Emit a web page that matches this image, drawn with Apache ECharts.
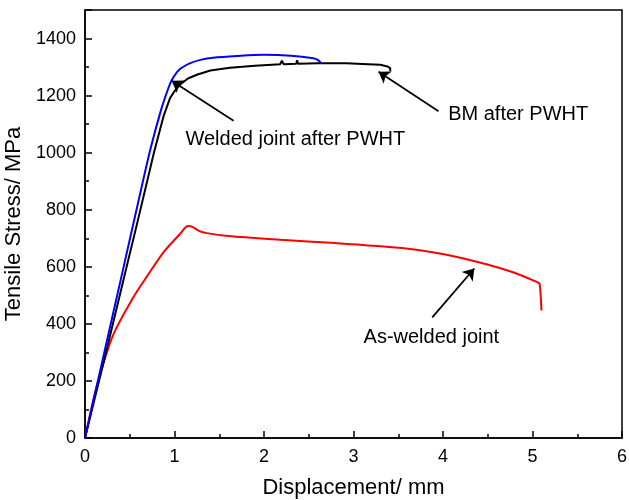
<!DOCTYPE html>
<html>
<head>
<meta charset="utf-8">
<script src="https://cdn.jsdelivr.net/npm/echarts@6/dist/echarts.min.js"></script>
<style>
  html, body { margin: 0; padding: 0; background: #fff; }
  #main { width: 629px; height: 500px; }
</style>
</head>
<body>
<div id="main"></div>
<script>
// displacement (mm), stress (MPa)
var asWelded = [[0,0],[0.09,130],[0.17,225],[0.32,365],[0.54,493],[0.7,570],[0.875,650],[1.06,715],[1.13,740],[1.16,743],[1.2,740],[1.28,725],[1.36,718],[1.6,708],[2.18,695],[2.8,683],[3.3,672],[3.7,660],[4.04,642],[4.41,615],[4.79,580],[5.06,545],[5.08,540],[5.10,447]];
var weldedPwht = [[0,0],[0.2,278],[0.4,556],[0.6,834],[0.73,1011],[0.85,1150],[0.93,1225],[0.97,1255],[1.05,1290],[1.17,1313],[1.3,1326],[1.43,1333],[1.7,1339],[2.0,1343],[2.3,1340],[2.55,1331],[2.6,1325],[2.64,1313]];
var bmPwht = [[0,0],[0.2,255],[0.4,515],[0.6,775],[0.77,1000],[0.88,1130],[0.95,1191],[1.0,1215],[1.06,1238],[1.15,1260],[1.25,1273],[1.4,1288],[1.62,1298],[1.9,1305],[2.18,1310],[2.2,1322],[2.22,1310],[2.36,1312],[2.37,1324],[2.38,1312],[2.6,1313],[2.92,1313],[3.1,1311],[3.3,1308],[3.38,1302],[3.41,1296],[3.41,1285]];

// annotation arrows: [tail, tip]
var arrows = [
  [[1.66,1112],[0.968,1252]],
  [[3.95,1145],[3.28,1284]],
  [[3.88,423],[4.35,594]]
];
var notes = [
  {name: 'Welded joint after PWHT', value: [2.35,1045]},
  {name: 'BM after PWHT', value: [4.84,1133]},
  {name: 'As-welded joint', value: [3.87,352]}
];

var chart = echarts.init(document.getElementById('main'));

var axisFont = {fontFamily: 'Liberation Sans, Arial, sans-serif', color: '#000'};
var plain = function (v) { return String(v); };

var option = {
  animation: false,
  grid: {left: 85, right: 7, top: 10, bottom: 62, outerBoundsMode: 'none', show: true, borderColor: '#000', borderWidth: 1.5},
  xAxis: {
    type: 'value', min: 0, max: 6, interval: 1,
    name: 'Displacement/ mm', nameLocation: 'middle', nameGap: 39,
    nameTextStyle: Object.assign({fontSize: 22}, axisFont),
    axisLine: {lineStyle: {color: '#000', width: 1.5}},
    axisTick: {inside: true, length: 7, lineStyle: {color: '#000', width: 1.5}},
    minorTick: {show: true, splitNumber: 2, length: 4, lineStyle: {color: '#000', width: 1.5}},
    axisLabel: Object.assign({fontSize: 18, margin: 10, formatter: plain}, axisFont),
    splitLine: {show: false}
  },
  yAxis: {
    type: 'value', min: 0, max: 1500, interval: 200,
    name: 'Tensile Stress/ MPa', nameLocation: 'middle', nameGap: 56,
    nameTextStyle: Object.assign({fontSize: 22}, axisFont),
    axisLine: {show: true, lineStyle: {color: '#000', width: 1.5}},
    axisTick: {inside: true, length: 7, lineStyle: {color: '#000', width: 1.5}},
    minorTick: {show: true, splitNumber: 2, length: 4, lineStyle: {color: '#000', width: 1.5}},
    axisLabel: Object.assign({fontSize: 18, margin: 9, showMaxLabel: false, formatter: plain}, axisFont),
    splitLine: {show: false}
  },
  series: [
    {type: 'line', data: asWelded, showSymbol: false, smooth: 0.3, lineStyle: {color: '#ff0000', width: 2}},
    {type: 'line', data: bmPwht, showSymbol: false, lineStyle: {color: '#000', width: 2}},
    {type: 'line', data: weldedPwht, showSymbol: false, smooth: 0.3, lineStyle: {color: '#0000ff', width: 2}},
    {
      type: 'lines', coordinateSystem: 'cartesian2d',
      symbol: ['none', 'arrow'], symbolSize: 11,
      lineStyle: {color: '#000', width: 1.8, opacity: 1},
      data: arrows.map(function (a) { return {coords: a}; })
    },
    {
      type: 'scatter', symbolSize: 0, data: notes, silent: true,
      itemStyle: {opacity: 1},
      label: Object.assign({show: true, position: 'inside', fontSize: 20, formatter: '{b}', textBorderWidth: 0}, axisFont)
    }
  ]
};

chart.setOption(option);
</script>
</body>
</html>
